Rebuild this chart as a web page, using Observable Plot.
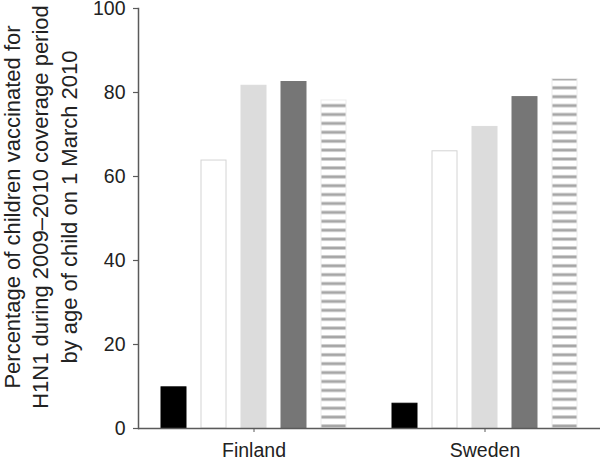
<!DOCTYPE html>
<html><head><meta charset="utf-8">
<script src="https://cdn.jsdelivr.net/npm/d3@7"></script>
<script src="https://cdn.jsdelivr.net/npm/@observablehq/plot@0.6"></script>
<style>
html,body{margin:0;padding:0;background:#fff;}
#chart{position:relative;width:600px;height:460px;font-family:"Liberation Sans",Arial,sans-serif;}
#ytitle{position:absolute;left:41px;top:207px;width:480px;transform:translate(-50%,-50%) rotate(-90deg);text-align:center;font-size:22px;line-height:28.3px;color:#222;white-space:nowrap;}
#chart svg{position:absolute;left:0;top:0;}
</style></head><body>
<svg width="0" height="0" style="position:absolute">
<defs>
<pattern id="stripes" patternUnits="userSpaceOnUse" x="0" y="428" width="20" height="8.9">
<rect x="0" y="0" width="20" height="8.9" fill="#ffffff"/>
<rect x="0" y="5.4" width="20" height="3" fill="#a6a6a6"/>
</pattern>
</defs>
</svg>
<div id="chart"><div id="ytitle">Percentage of children vaccinated for<br>H1N1 during 2009–2010 coverage period<br>by age of child on 1 March 2010</div></div>
<script>
const countries = ["Finland", "Sweden"];
const ageGroups = ["Age group 1", "Age group 2", "Age group 3", "Age group 4", "Age group 5"];
const finlandValues = [9.8, 63.8, 81.6, 82.5, 78.1];
const swedenValues = [5.9, 66.0, 71.8, 78.9, 83.2];
const yTicks = [0, 20, 40, 60, 80, 100];

const barFills = ["#000000", "#ffffff", "#dcdcdc", "#767676", "url(#stripes)"];
const barStrokes = ["#000000", "#d4d4d4", "#dcdcdc", "#767676", "#ececec"];

const valuesByCountry = {Finland: finlandValues, Sweden: swedenValues};
const rows = countries.flatMap(c => ageGroups.map((a, i) => ({country: c, age: a, value: valuesByCountry[c][i]})));
const idx = d => ageGroups.indexOf(d.age);

const chart = Plot.plot({
  width: 600, height: 460,
  marginLeft: 138, marginRight: 0, marginTop: 8, marginBottom: 32,
  style: {fontFamily: "'Liberation Sans', Arial, sans-serif", fontSize: "19.5px", color: "#222", background: "transparent"},
  fx: {domain: countries, paddingInner: 0, paddingOuter: 0, label: null},
  x: {domain: ageGroups, paddingInner: 0.383, paddingOuter: 0.543, axis: null},
  y: {domain: [0, 100], label: null},
  marks: [
    Plot.barY(rows, {
      fx: "country", x: "age", y: "value",
      fill: {value: d => barFills[idx(d)], scale: null},
      stroke: {value: d => barStrokes[idx(d)], scale: null},
      strokeWidth: 1
    }),
    Plot.ruleY([0], {stroke: "#5a5a5a", strokeWidth: 1.5}),
    Plot.frame({anchor: "left", facetAnchor: "left", stroke: "#5a5a5a", strokeWidth: 1.5}),
    Plot.axisY({ticks: yTicks, tickSize: 5, tickPadding: 8, label: null, stroke: "#5a5a5a", strokeWidth: 1.2}),
    Plot.axisFx({anchor: "bottom", tickSize: 4, tickPadding: 11, label: null, stroke: "#5a5a5a"})
  ]
});
document.getElementById("chart").appendChild(chart);
</script>
</body></html>
